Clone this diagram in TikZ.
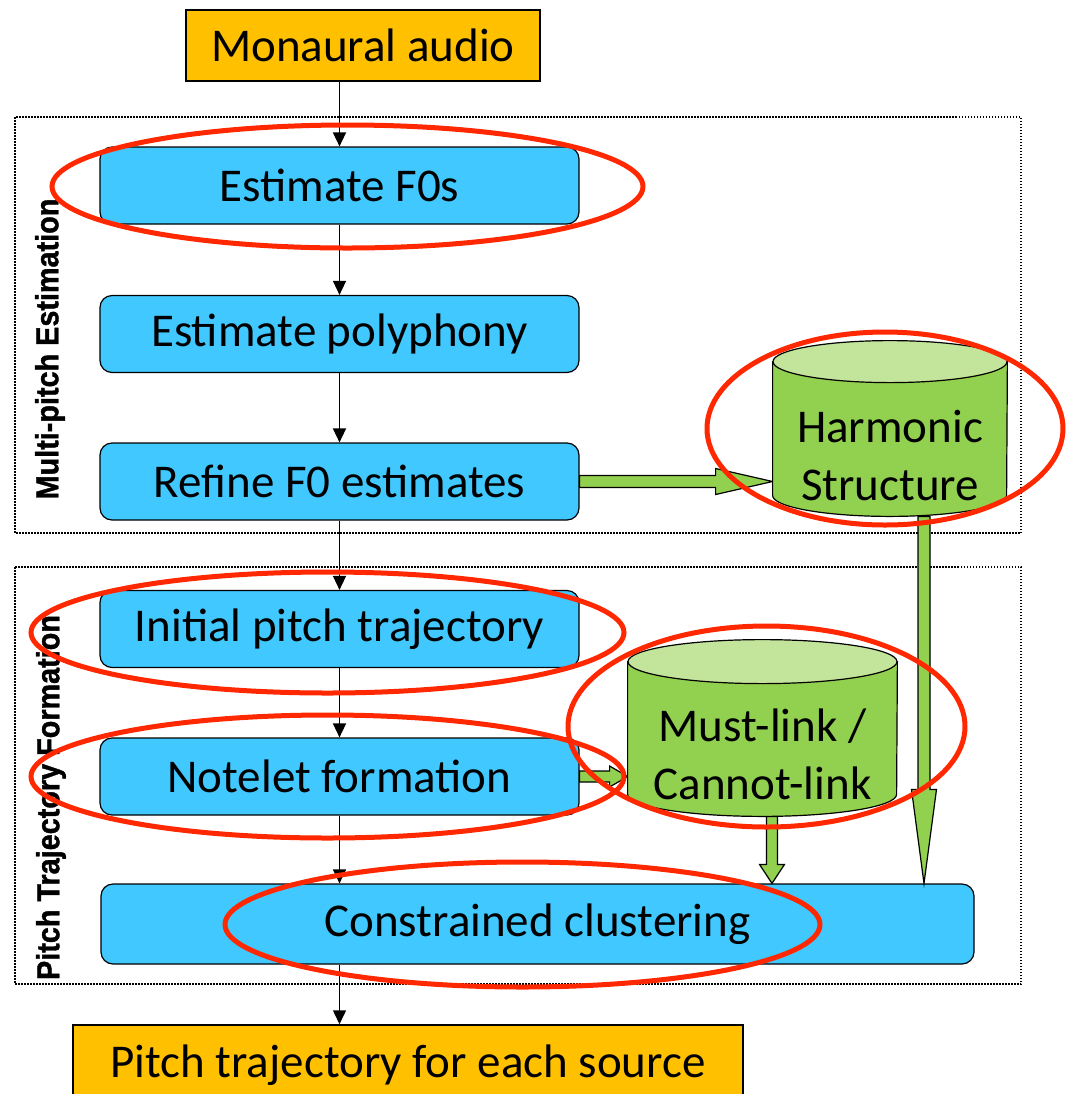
\documentclass[tikz,border=0pt]{standalone}
\usepackage{fontspec}
\setmainfont{Carlito}
\newfontfamily\sidefont[FakeStretch=0.9, FakeBold=1.2]{Liberation Sans Bold}
\usetikzlibrary{arrows.meta, calc, positioning}

\definecolor{boxblue}{RGB}{64,200,255}
\definecolor{ioorange}{RGB}{255,192,0}
\definecolor{dbgreen}{RGB}{146,208,80}
\definecolor{dbtop}{RGB}{195,228,155}
\definecolor{markred}{RGB}{255,40,0}

\tikzset{
  stage/.style={draw, fill=boxblue, rounded corners=6pt, line width=0.6pt,
    minimum width=239.5pt, minimum height=38.5pt, inner sep=0pt,
    font=\fontsize{23.5}{29}\selectfont},
  io/.style={draw, fill=ioorange, line width=0.75pt, inner sep=0pt,
    font=\fontsize{23.5}{29}\selectfont},
  dbbox/.style={rectangle, inner sep=0pt},
  dbtext/.style={align=center, font=\fontsize{23.5}{29}\selectfont},
  flow/.style={-{Triangle[length=7pt,width=6.5pt]}, line width=0.75pt},
  feed/.style={draw=black, fill=dbgreen, line width=0.6pt},
  redring/.style={draw=markred, line width=2.5pt},
  phase/.style={draw, line width=0.75pt, dash pattern=on 0.75pt off 0.75pt},
  phaselabel/.style={rotate=90, font=\sidefont\fontsize{16}{18}\selectfont}
}

% green block arrows: #1 tail, #2 tip, #3 half shaft, #4 half head, #5 head length
\newcommand\rightblock[5]{%
  \draw[feed] let \p1=(#1), \p2=(#2) in
    (\x1,\y1+#3) -- (\x2-#5,\y1+#3) -- (\x2-#5,\y1+#4) -- (\x2,\y1)
    -- (\x2-#5,\y1-#4) -- (\x2-#5,\y1-#3) -- (\x1,\y1-#3) -- cycle;}
\newcommand\downblock[5]{%
  \draw[feed] let \p1=(#1), \p2=(#2) in
    (\x1-#3,\y1) -- (\x1-#3,\y2+#5) -- (\x1-#4,\y2+#5) -- (\x1,\y2)
    -- (\x1+#4,\y2+#5) -- (\x1+#3,\y2+#5) -- (\x1+#3,\y1) -- cycle;}
% store drum round a box node: #1 node, #2 half width, #3 end radius
\newcommand\drum[3]{%
  \draw[feed] ([yshift=-#3]#1.north west) -- ([yshift=#3]#1.south west)
    arc[start angle=180, end angle=360, x radius=#2, y radius=#3]
    -- ([yshift=-#3]#1.north east) -- cycle;
  \draw[feed, fill=dbtop] ([yshift=-#3]#1.north) ellipse [x radius=#2, y radius=#3];}

\begin{document}
\begin{tikzpicture}[x=0.5pt, y=-0.5pt]
  \useasboundingbox (0,0) rectangle (1071,1094);
  \fill[white] (0,0) rectangle (1071,1094);

  % the two phases
  \draw[phase] (15,117) rectangle (1021,533);
  \draw[phase] (15,567) rectangle (1021,984);
  \node[phaselabel] (mpe) at (50,349) {Multi-pitch Estimation};
  \node[phaselabel] (ptf) at (51,797.5) {Pitch Trajectory Formation};

  % processing chain
  \node[io, minimum width=177pt, minimum height=35.5pt] (audio) at (363,45.5) {Monaural audio};
  \node[stage] (f0) at (339.5,185.5) {Estimate F0s};
  \node[stage] (poly) at (339.5,334) {Estimate polyphony};
  \node[stage] (refine) at (339.5,481.5) {Refine F0 estimates};
  \node[stage] (init) at (339.5,629) {Initial pitch trajectory};
  \node[stage] (notelet) at (339.5,776.5) {Notelet formation};
  \node[stage, minimum width=436.5pt, minimum height=40pt] (clust) at (537.5,924) {Constrained clustering};
  \node[io, minimum width=335pt, minimum height=40pt] (out) at (408,1065) {Pitch trajectory for each source};

  % stores
  \node[dbbox, minimum width=117pt, minimum height=87.5pt] (harm) at (890,428.5) {};
  \node[dbbox, minimum width=134.5pt, minimum height=88pt] (must) at (762.5,728) {};

  \draw[flow] (f0.north |- audio.south) -- (f0.north);
  \draw[flow] (f0.south) -- (poly.north);
  \draw[flow] (poly.south) -- (refine.north);
  \draw[flow] (refine.south) -- (init.north);
  \draw[flow] (init.south) -- (notelet.north);
  \draw[flow] (notelet.south) -- (notelet.south |- clust.north);
  \draw[flow] (clust.south -| notelet.south) -- (out.north -| notelet.south);

  \rightblock{refine.east}{harm.west}{3pt}{6.5pt}{28.5pt}
  \rightblock{notelet.east}{must.west}{2.75pt}{5.25pt}{9pt}
  \downblock{[xshift=17pt]harm.south}{clust.north}{3pt}{6.25pt}{47pt}
  \downblock{[xshift=4.75pt]must.south}{clust.north}{2.75pt}{6.25pt}{9.5pt}

  \drum{harm}{58.5pt}{10.5pt}
  \drum{must}{67.25pt}{11pt}
  \node[dbtext] (harmtxt) at ([yshift=-13.5pt]harm.center) {Harmonic\\Structure};
  \node[dbtext] (musttxt) at ([yshift=-13pt]must.center) {Must-link /\\Cannot-link};

  % highlighted parts
  \draw[redring] (347.5,186.5) ellipse [x radius=295.5, y radius=61.5];
  \draw[redring] (885,428.5) ellipse [x radius=178, y radius=96.5];
  \draw[redring] (327.5,632.5) ellipse [x radius=296.5, y radius=60.5];
  \draw[redring] (327.5,776.5) ellipse [x radius=296.5, y radius=61.5];
  \draw[redring] (766.5,726.5) ellipse [x radius=198.5, y radius=100.5];
  \draw[redring] (522.5,924.5) ellipse [x radius=297.5, y radius=62.5];
\end{tikzpicture}
\end{document}
